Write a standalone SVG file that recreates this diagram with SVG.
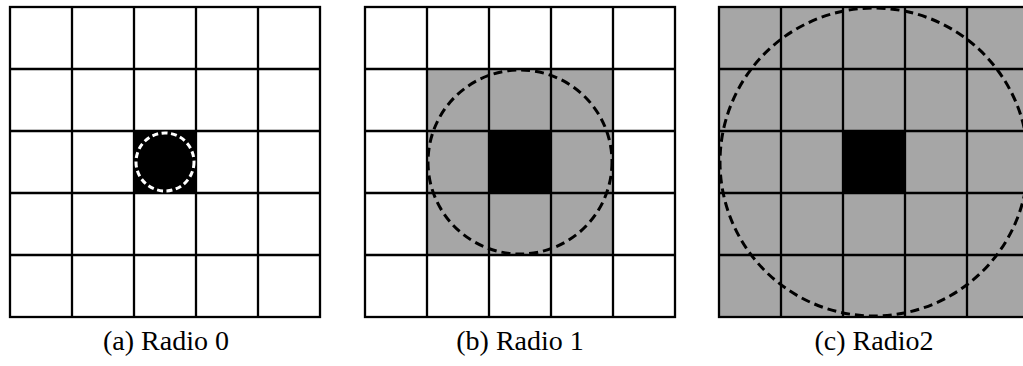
<svg xmlns="http://www.w3.org/2000/svg" width="1023" height="366" viewBox="0 0 1023 366">
<style>
.grid{fill:none;stroke:#000;stroke-width:2.3}
.gray{fill:#a6a6a6}
.blk{fill:#000}
.dash{fill:none;stroke:#000;stroke-width:3;stroke-dasharray:9 5}
.wdash{fill:none;stroke:#fff;stroke-width:3;stroke-dasharray:6 3.5}
.cap{font-family:"Liberation Serif","Times New Roman",serif;font-size:28px;fill:#000;text-anchor:middle}
</style>
<defs>
<g id="grid5">
<rect x="0" y="0" width="310" height="310" class="grid"/>
<path class="grid" d="M62 0V310M124 0V310M186 0V310M248 0V310M0 62H310M0 124H310M0 186H310M0 248H310"/>
</g>
</defs>
<rect width="1023" height="366" fill="#fff"/>
<g id="panel-a">
<rect x="134" y="131" width="62" height="62" class="blk"/>
<use href="#grid5" x="10" y="7"/>
<circle cx="165" cy="162" r="29" class="wdash"/>
<text x="166" y="350" class="cap">(a) Radio 0</text>
</g>
<g id="panel-b">
<rect x="427" y="69" width="186" height="186" class="gray"/>
<rect x="489" y="131" width="62" height="62" class="blk"/>
<use href="#grid5" x="365" y="7"/>
<circle cx="520" cy="162" r="92" class="dash"/>
<text x="520" y="350" class="cap">(b) Radio 1</text>
</g>
<g id="panel-c">
<rect x="719" y="7" width="310" height="310" class="gray"/>
<rect x="843" y="131" width="62" height="62" class="blk"/>
<use href="#grid5" x="719" y="7"/>
<circle cx="874" cy="162" r="154" class="dash"/>
<text x="874" y="350" class="cap">(c) Radio2</text>
</g>
</svg>
